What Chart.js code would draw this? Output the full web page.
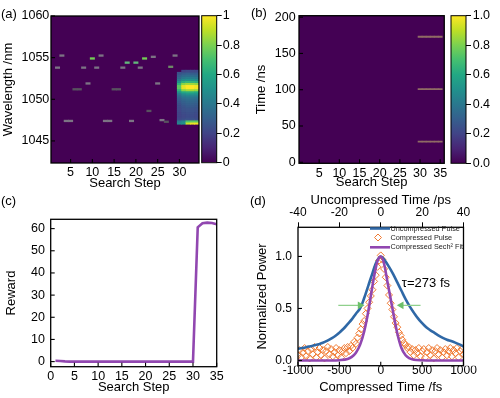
<!DOCTYPE html>
<html><head><meta charset="utf-8">
<script src="https://cdn.jsdelivr.net/npm/chart.js@4.4.1/dist/chart.umd.min.js"></script>
<style>
html,body{margin:0;padding:0;background:#fff;}
body{width:500px;height:398px;position:relative;overflow:hidden;font-family:'Liberation Sans',Arial,sans-serif;}
canvas{position:absolute;}
.pl{position:absolute;font-size:13px;line-height:15px;z-index:5;color:#000;}
</style></head><body>
<canvas id="ca" width="200" height="195" style="left:0;top:0"></canvas>
<canvas id="cba" width="52" height="195" style="left:198px;top:0"></canvas>
<canvas id="cb" width="200" height="195" style="left:250px;top:0"></canvas>
<canvas id="cbb" width="52" height="195" style="left:448px;top:0"></canvas>
<canvas id="cc" width="250" height="203" style="left:0;top:195px"></canvas>
<canvas id="cd" width="250" height="208" style="left:250px;top:190px"></canvas>
<div class="pl" style="left:1px;top:6px">(a)</div>
<div class="pl" style="left:251px;top:5px">(b)</div>
<div class="pl" style="left:1px;top:193px">(c)</div>
<div class="pl" style="left:250px;top:193px">(d)</div>
<script>
// ---------------- DATA ----------------
// tick labels
const stepTicksA = [5,10,15,20,25,30];
const wlTicks = [1045,1050,1055,1060];
const cbTicksA = [0,0.2,0.4,0.6,0.8,1];
const stepTicksB = [5,10,15,20,25,30,35];
const timeTicks = [0,50,100,150,200];
const cbTicksB = [0,0.2,0.4,0.6,0.8,1.0];
const stepTicksC = [0,5,10,15,20,25,30,35];
const rewardTicks = [0,10,20,30,40,50,60];
const fsTicks = [-1000,-500,0,500,1000];
const psTicks = [-40,-20,0,20,40];
const powerTicks = [0,0.5,1.0];

// (a) sparse spectra during search (step, wavelength nm, intensity)
const segStep = [2,3,4,5,6,7,8,9,10,11,12,13,14,15,16,17,18,19,20,21,22,23,24,25,26,27,28,29];
const segWl   = [1053.8,1055.25,1047.4,1047.4,1051.2,1051.2,1053.8,1051.9,1054.9,1053.8,1055.25,1047.4,1047.4,1051.2,1051.2,1053.8,1054.4,1047.4,1054.4,1053.8,1054.9,1048.6,1055.1,1051.9,1047.5,1047.3,1053.9,1055.25];
const segVal  = [0.3,0.3,0.3,0.3,0.25,0.25,0.3,0.3,0.65,0.3,0.3,0.3,0.3,0.25,0.25,0.3,0.55,0.3,0.5,0.3,0.7,0.25,0.32,0.3,0.3,0.25,0.4,0.32];
// (a) mode-locked spectra, steps 30-34
const blockStep = [30,31,32,33,34];
const blockWl = [1047.125,1047.375,1047.625,1047.875,1048.125,1048.375,1048.625,1048.875,1049.125,1049.375,1049.625,1049.875,1050.125,1050.375,1050.625,1050.875,1051.125,1051.375,1051.625,1051.875,1052.125,1052.375,1052.625,1052.875,1053.125,1053.375];
const spec30 = [0.45,0.4,0.22,0.2,0.2,0.2,0.21,0.22,0.23,0.24,0.26,0.28,0.3,0.34,0.4,0.5,0.64,0.74,0.74,0.64,0.5,0.4,0.34,0.3,0.25,null];
const spec31 = [0.5,0.45,0.24,0.22,0.22,0.23,0.24,0.25,0.26,0.28,0.3,0.32,0.35,0.4,0.47,0.6,0.82,0.96,0.96,0.82,0.63,0.48,0.4,0.34,0.28,0.2];
const spec32 = [0.92,0.72,0.25,0.23,0.23,0.24,0.25,0.26,0.28,0.3,0.32,0.34,0.37,0.42,0.5,0.62,0.86,1.0,1.0,0.86,0.66,0.5,0.42,0.35,0.3,0.22];
const spec33 = [0.97,0.75,0.25,0.23,0.23,0.24,0.25,0.26,0.28,0.3,0.32,0.34,0.37,0.42,0.5,0.62,0.86,1.0,1.0,0.85,0.65,0.5,0.42,0.35,0.29,0.22];
const spec34 = [0.98,0.74,0.24,0.22,0.22,0.23,0.24,0.25,0.27,0.29,0.31,0.33,0.36,0.41,0.49,0.6,0.84,0.98,0.98,0.83,0.63,0.48,0.4,0.34,0.28,0.21];

// (b) pulse train
const pulseStep = [30,31,32,33,34,35];
const pulseTime = [28.5,100.7,173];

// (c) reward
const rewardStep = [1,2,3,4,5,6,7,8,9,10,11,12,13,14,15,16,17,18,19,20,21,22,23,24,25,26,27,28,29,30,31,32,33,34,35];
const reward = [0.4,0.3,0.1,0,0,0,0,0,0,0,0,0,0,0,0,0,0,0,0,0,0,0,0,0,0,0,0,0,0,0,60.6,62.4,62.7,62.5,62.0];

// (d) autocorrelation
const uncompPs = [-40,-38,-36,-34,-32,-30,-28,-26,-24,-22,-20,-18,-16,-14,-12,-10,-8,-6,-4,-2,0,2,4,6,8,10,12,14,16,18,20,22,24,26,28,30,32,34,36,38,40];
const uncompVal = [0.113,0.12,0.128,0.137,0.146,0.157,0.17,0.188,0.21,0.235,0.268,0.305,0.35,0.395,0.45,0.5,0.6,0.72,0.84,0.95,1.0,0.96,0.9,0.83,0.75,0.67,0.59,0.52,0.46,0.405,0.36,0.32,0.29,0.265,0.24,0.218,0.2,0.187,0.172,0.155,0.135];
const compFs = [-1000,-980,-960,-940,-920,-900,-880,-860,-840,-820,-800,-780,-760,-740,-720,-700,-680,-660,-640,-620,-600,-580,-560,-540,-520,-500,-480,-460,-440,-420,-400,-380,-360,-340,-320,-300,-280,-260,-240,-220,-200,-180,-160,-140,-120,-100,-80,-60,-40,-20,0,20,40,60,80,100,120,140,160,180,200,220,240,260,280,300,320,340,360,380,400,420,440,460,480,500,520,540,560,580,600,620,640,660,680,700,720,740,760,780,800,820,840,860,880,900,920,940,960,980,1000];
const compVal = [0.05,0.10,0.03,0.08,0.12,0.04,0.09,0.02,0.11,0.06,0.13,0.03,0.08,0.12,0.05,0.10,0.02,0.09,0.13,0.06,0.11,0.04,0.08,0.12,0.05,0.10,0.03,0.09,0.12,0.07,0.13,0.09,0.14,0.12,0.18,0.16,0.22,0.26,0.30,0.35,0.38,0.45,0.50,0.56,0.62,0.68,0.76,0.82,0.90,0.96,1.01,0.97,0.88,0.80,0.72,0.63,0.55,0.49,0.42,0.36,0.32,0.27,0.24,0.20,0.17,0.15,0.12,0.13,0.08,0.11,0.05,0.10,0.07,0.12,0.04,0.09,0.11,0.03,0.08,0.12,0.05,0.10,0.02,0.09,0.12,0.06,0.10,0.03,0.08,0.11,0.05,0.09,0.12,0.04,0.10,0.07,0.12,0.03,0.09,0.11,0.06];
const fitFs = [-1000,-800,-600,-500,-400,-350,-300,-250,-200,-160,-120,-80,-40,0,40,80,120,160,200,250,300,350,400,500,600,800,1000];
const fitVal = [0,0,0,0.003,0.015,0.035,0.075,0.15,0.28,0.43,0.62,0.81,0.955,1.0,0.93,0.76,0.59,0.42,0.26,0.12,0.05,0.02,0.008,0.002,0,0,0];
const arrowLFs = [-513,-250];
const arrowRFs = [481,248];
const arrowLevel = 0.53;
const tauLabel = 'τ=273 fs';
const tauPos = [255, 0.74];
const legendLabels = ['Uncompressed Pulse','Compressed Pulse','Compressed Sech² Fit'];

// ---------------- STYLE / HELPERS ----------------
const FONT = "'Liberation Sans', Arial, Helvetica, sans-serif";
Chart.defaults.font.family = FONT;
Chart.defaults.font.size = 12.5;
Chart.defaults.color = '#000';
Chart.defaults.animation = false;

const VIR = ['#440154','#482475','#414487','#355f8d','#2a788e','#21918c','#22a884','#44bf70','#7ad151','#bddf26','#fde725'];
function hex(c){return [parseInt(c.slice(1,3),16),parseInt(c.slice(3,5),16),parseInt(c.slice(5,7),16)];}
function viridis(v){
  v=Math.max(0,Math.min(1,v)); const f=v*10, i=Math.min(9,Math.floor(f)), t=f-i;
  const a=hex(VIR[i]), b=hex(VIR[i+1]);
  return 'rgb('+a.map((x,k)=>Math.round(x+(b[k]-x)*t)).join(',')+')';
}
function segColor(v){
  if (v < 0.28) return '#58525f';
  if (v < 0.35) return '#7c7484';
  if (v < 0.45) return '#6e8a66';
  if (v < 0.6) return '#62b87a';
  return '#74cd55';
}
const fixW = w => s => { s.width = w; };
const fixH = h => s => { s.height = h; };
const setTicks = vals => s => { s.ticks = vals.map(v => ({value: v})); };
const plain = v => String(v);
const fix1 = v => Number(v).toFixed(1);

const bgPlugin = { id:'bg', beforeDatasetsDraw(chart, args, o){ if(!o||!o.color) return; const a=chart.chartArea, c=chart.ctx; c.save(); c.fillStyle=o.color; c.fillRect(a.left,a.top,a.right-a.left,a.bottom-a.top); c.restore(); } };
const framePlugin = { id:'frame', afterDatasetsDraw(chart, args, o){ if(!o||!o.on) return; const a=chart.chartArea, c=chart.ctx; c.save(); c.strokeStyle='#000'; c.lineWidth=o.w||1.3; c.strokeRect(a.left,a.top,a.right-a.left,a.bottom-a.top); c.restore(); } };
const inTicksPlugin = { id:'inTicks', afterDatasetsDraw(chart, args, o){
  if(!o||!o.axes) return; const a=chart.chartArea, c=chart.ctx;
  c.save(); c.strokeStyle='#000'; c.lineWidth=1.1;
  for (const id of o.axes){ const s=chart.scales[id];
    for (const t of s.ticks){ const p=s.getPixelForValue(t.value); c.beginPath();
      if (s.isHorizontal()){ const y = s.position==='top'?a.top:a.bottom; const d = s.position==='top'?o.len:-o.len; c.moveTo(p,y); c.lineTo(p,y+d); }
      else { c.moveTo(a.left,p); c.lineTo(a.left+o.len,p); }
      c.stroke(); } }
  c.restore(); } };
Chart.register(bgPlugin, framePlugin, inTicksPlugin);

const titleFont = {size:13};
const tickFontD = {size:12};
function baseOpts(pad){ return { responsive:false, devicePixelRatio:1, animation:false, layout:{padding:pad}, events:[] }; }
function noGrid(){ return {display:false, drawTicks:false}; }

// ---------------- (a) heat map ----------------
const segPts = segStep.map((s,i)=>({x:s, y:[segWl[i]-0.1, segWl[i]+0.1]}));
const segCols = segVal.map(segColor);
const blockSpecs = [spec30,spec31,spec32,spec33,spec34];
const blkPts = [], blkCols = [];
blockStep.forEach((s,ci)=>{ blockWl.forEach((w,j)=>{ const v=blockSpecs[ci][j]; if(v==null) return; blkPts.push({x:s, y:[w-0.125, w+0.125]}); blkCols.push(viridis(v)); }); });

new Chart(document.getElementById('ca'), {
  type:'bar',
  data:{datasets:[
    {data:blkPts, backgroundColor:blkCols, grouped:false, barPercentage:1, categoryPercentage:1, borderWidth:0},
    {data:segPts, backgroundColor:segCols, grouped:false, barPercentage:1, categoryPercentage:1, borderWidth:0}
  ]},
  options:Object.assign(baseOpts({top:16,right:1,left:0,bottom:0}),{
    plugins:{legend:{display:false}, tooltip:{enabled:false}, bg:{color:'#440154'}, frame:{on:true}, inTicks:{axes:['x','y'],len:4}},
    scales:{
      x:{type:'linear', min:0.5, max:34.5, offset:false, grid:noGrid(), border:{display:false},
         afterBuildTicks:setTicks(stepTicksA), afterFit:fixH(32),
         ticks:{padding:2.5, maxRotation:0, autoSkip:false, callback:plain},
         title:{display:true, text:'Search Step', font:titleFont, padding:{top:0,bottom:3.9}}},
      y:{type:'linear', min:1042.35, max:1060, grid:noGrid(), border:{display:false},
         afterBuildTicks:setTicks(wlTicks), afterFit:fixW(51),
         ticks:{padding:1.7, callback:plain},
         title:{display:true, text:'Wavelength /nm', font:titleFont, padding:{top:0.5,bottom:0}}}
    }
  })
});

// ---------------- colorbars ----------------
function colorbar(id, padL, axisW, top, bottom, ticks, fmt, pad){
  new Chart(document.getElementById(id), {
    type:'bar',
    data:{labels:['c'], datasets:[{data:[[0,1]], borderWidth:0, barPercentage:1, categoryPercentage:1,
      backgroundColor:(ctx)=>{ const ch=ctx.chart, a=ch.chartArea; if(!a) return VIR[0];
        const g=ch.ctx.createLinearGradient(0,a.bottom,0,a.top); VIR.forEach((c,i)=>g.addColorStop(i/(VIR.length-1),c)); return g; }}]},
    options:Object.assign(baseOpts({top:top,bottom:bottom,left:padL,right:0}),{
      plugins:{legend:{display:false}, tooltip:{enabled:false}, frame:{on:true, w:1}},
      scales:{
        x:{display:false},
        y:{position:'right', min:0, max:1, border:{display:false},
           grid:{display:true, drawOnChartArea:false, drawTicks:true, tickLength:5, color:'#000', lineWidth:1},
           afterBuildTicks:setTicks(ticks), afterFit:fixW(axisW),
           ticks:{padding:pad, callback:fmt}}
      }
    })
  });
}
colorbar('cba', 3.7, 33.3, 15.7, 32.3, cbTicksA, plain, 1);
colorbar('cbb', 3, 34, 15.7, 31.7, cbTicksB, fix1, 1.7);

// ---------------- (b) time-domain map ----------------
const pulsePts = [];
pulseTime.forEach(t=>{ pulseStep.forEach(s=>{ pulsePts.push({x:s, y:[t-0.8, t+0.8]}); }); });
new Chart(document.getElementById('cb'), {
  type:'bar',
  data:{datasets:[{data:pulsePts, backgroundColor:'#8f6b64', grouped:false, barPercentage:1, categoryPercentage:1, borderWidth:0}]},
  options:Object.assign(baseOpts({top:15.7,right:1,left:0,bottom:0}),{
    plugins:{legend:{display:false}, tooltip:{enabled:false}, bg:{color:'#440154'}, frame:{on:true}, inTicks:{axes:['x','y'],len:4}},
    scales:{
      x:{type:'linear', min:0, max:36, offset:false, grid:noGrid(), border:{display:false},
         afterBuildTicks:setTicks(stepTicksB), afterFit:fixH(31.7),
         ticks:{padding:2.8, maxRotation:0, autoSkip:false, callback:plain},
         title:{display:true, text:'Search Step', font:titleFont, padding:{top:0,bottom:4.5}}},
      y:{type:'linear', min:-1.4, max:202, grid:noGrid(), border:{display:false},
         afterBuildTicks:setTicks(timeTicks), afterFit:fixW(49),
         ticks:{padding:3.3, callback:plain},
         title:{display:true, text:'Time /ns', font:titleFont, padding:{top:3.9,bottom:0}}}
    }
  })
});

// ---------------- (c) reward ----------------
new Chart(document.getElementById('cc'), {
  type:'line',
  data:{datasets:[{data:rewardStep.map((s,i)=>({x:s,y:reward[i]})), borderColor:'#9147b0', borderWidth:2.6, pointRadius:0, tension:0, fill:false}]},
  options:Object.assign(baseOpts({top:24.3,right:33.3,left:0,bottom:0}),{
    plugins:{legend:{display:false}, tooltip:{enabled:false}, frame:{on:true}, inTicks:{axes:['x','y'],len:4}},
    scales:{
      x:{type:'linear', min:0, max:35, grid:noGrid(), border:{display:false},
         afterBuildTicks:setTicks(stepTicksC), afterFit:fixH(31.3),
         ticks:{padding:2.8, maxRotation:0, autoSkip:false, callback:plain},
         title:{display:true, text:'Search Step', font:titleFont, padding:{top:0,bottom:2.5}}},
      y:{type:'linear', min:-2.3, max:64.2, grid:noGrid(), border:{display:false},
         afterBuildTicks:setTicks(rewardTicks), afterFit:fixW(50.7),
         ticks:{padding:5.7, callback:plain},
         title:{display:true, text:'Reward', font:titleFont, padding:{top:3.9,bottom:0}}}
    }
  })
});

// ---------------- (d) autocorrelation ----------------
const BLUE='#2f68a6', ORANGE='#f07a32', PURPLE='#9147b0', GREEN='#8fd08c', GREENH='#6cbf69';
const dDecor = { id:'dDecor', afterDatasetsDraw(chart){
  const c=chart.ctx, a=chart.chartArea, sx=chart.scales.x, sy=chart.scales.y;
  c.save();
  c.fillStyle='#000'; c.textBaseline='middle'; c.textAlign='left';
  c.font='13px '+FONT;
  c.fillText(tauLabel, sx.getPixelForValue(tauPos[0]), sy.getPixelForValue(tauPos[1]));
  // legend
  c.font='7.3px '+FONT;
  const x0=a.right-93.5, x1=a.right-73.5, tx=a.right-73, rows=[a.top+1.2,a.top+10.2,a.top+20];
  c.lineWidth=2.6; c.strokeStyle=BLUE; c.beginPath(); c.moveTo(x0,rows[0]); c.lineTo(x1,rows[0]); c.stroke();
  c.strokeStyle=PURPLE; c.beginPath(); c.moveTo(x0,rows[2]); c.lineTo(x1,rows[2]); c.stroke();
  c.lineWidth=1; c.strokeStyle=ORANGE; const dx=(x0+x1)/2-2, r=3.5; c.beginPath(); c.moveTo(dx,rows[1]-r); c.lineTo(dx+r,rows[1]); c.lineTo(dx,rows[1]+r); c.lineTo(dx-r,rows[1]); c.closePath(); c.stroke();
  c.fillStyle='#222';
  legendLabels.forEach((t,i)=>c.fillText(t, tx, rows[i]));
  c.restore();
}};
new Chart(document.getElementById('cd'), {
  type:'line',
  data:{datasets:[
    {label:legendLabels[2], data:fitFs.map((x,i)=>({x:x,y:fitVal[i]})), xAxisID:'x', borderColor:PURPLE, borderWidth:2.6, pointRadius:0, cubicInterpolationMode:'monotone', order:0},
    {data:[{x:arrowLFs[0],y:arrowLevel},{x:arrowLFs[1],y:arrowLevel}], xAxisID:'x', borderColor:GREEN, borderWidth:1.2, pointRadius:[0,4.5], pointStyle:'triangle', pointRotation:90, pointBackgroundColor:GREENH, pointBorderColor:GREENH, pointBorderWidth:0, order:1},
    {data:[{x:arrowRFs[0],y:arrowLevel},{x:arrowRFs[1],y:arrowLevel}], xAxisID:'x', borderColor:GREEN, borderWidth:1.2, pointRadius:[0,4.5], pointStyle:'triangle', pointRotation:-90, pointBackgroundColor:GREENH, pointBorderColor:GREENH, pointBorderWidth:0, order:1},
    {label:legendLabels[0], data:uncompPs.map((x,i)=>({x:x,y:uncompVal[i]})), xAxisID:'x2', borderColor:BLUE, borderWidth:2.6, pointRadius:0, tension:0.4, order:2},
    {label:legendLabels[1], data:compFs.map((x,i)=>({x:x,y:compVal[i]})), xAxisID:'x', showLine:false, pointStyle:'rectRot', pointRadius:3.5, pointBorderWidth:1, pointBorderColor:ORANGE, pointBackgroundColor:'rgba(0,0,0,0)', borderColor:ORANGE, order:3}
  ]},
  options:Object.assign(baseOpts({top:0,right:36.5,left:0,bottom:0}),{
    plugins:{legend:{display:false}, tooltip:{enabled:false}, frame:{on:true}, inTicks:{axes:['x','y'],len:4}},
    scales:{
      x:{type:'linear', position:'bottom', min:-1000, max:1000, grid:noGrid(), border:{display:false},
         afterBuildTicks:setTicks(fsTicks), afterFit:fixH(32.3),
         ticks:{padding:-2.4, maxRotation:0, autoSkip:false, callback:plain, font:tickFontD},
         title:{display:true, text:'Compressed Time /fs', font:titleFont, padding:{top:0,bottom:2.9}}},
      x2:{type:'linear', position:'top', min:-40, max:40, border:{display:false},
         grid:{display:true, drawOnChartArea:false, drawTicks:true, tickLength:5, color:'#000', lineWidth:1},
         afterBuildTicks:setTicks(psTicks), afterFit:fixH(37.3),
         ticks:{padding:2.3, maxRotation:0, autoSkip:false, callback:plain, font:tickFontD},
         title:{display:true, text:'Uncompressed Time /ps', font:titleFont, padding:{top:2.7,bottom:0}}},
      y:{type:'linear', min:-0.05, max:1.28, grid:noGrid(), border:{display:false},
         afterBuildTicks:setTicks(powerTicks), afterFit:fixW(48),
         ticks:{padding:6, callback:fix1, font:tickFontD},
         title:{display:true, text:'Normalized Power', font:titleFont, padding:{top:4.5,bottom:0}}}
    }
  }),
  plugins:[dDecor]
});
</script>
</body></html>
